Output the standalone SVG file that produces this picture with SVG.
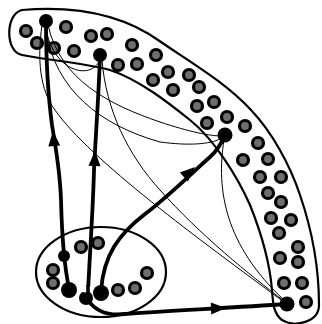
<svg xmlns="http://www.w3.org/2000/svg" xmlns:xlink="http://www.w3.org/1999/xlink" width="322" height="324" viewBox="0 0 322 324">
<style>
.region{fill:none;stroke:#000;stroke-width:2.2}
.g{fill:#6e6e6e;stroke:#000;stroke-width:3.2}
.n{fill:#000}
.thick{fill:none;stroke:#000;stroke-width:3.8;stroke-linecap:round}
.thin{fill:none;stroke:#000;stroke-width:1}
</style>
<defs>
<path id="ah" d="M0,0 L-15,-6 L-15,6 Z" fill="#000"/>
</defs>
<rect width="322" height="324" fill="#fff"/>
<g id="band">
<path class="region" d="M22,10 C70,6 120,12 161,42 C190,62 225,82 251,110 C272,132 290,165 300,195 C312,230 319,270 319,305 C319,322 295,328 282,320 C274,314 273,305 272,290 C270,265 262,235 250,205 C238,178 215,140 190,120 C170,104 140,80 110,70 C80,62 45,60 22,55 C5,52 5,14 22,10 Z"/>
<g>
<circle class="g" cx="26" cy="31" r="5.5"/><circle class="g" cx="37" cy="43" r="5.5"/><circle class="g" cx="54" cy="48" r="5.5"/>
<circle class="g" cx="66" cy="27" r="5.5"/><circle class="g" cx="74" cy="51" r="5.5"/><circle class="g" cx="91" cy="36" r="5.5"/>
<circle class="g" cx="107" cy="34" r="5.5"/><circle class="g" cx="132" cy="45" r="5.5"/><circle class="g" cx="118" cy="65" r="5.5"/>
<circle class="g" cx="137" cy="64" r="5.5"/><circle class="g" cx="156" cy="55" r="5.5"/><circle class="g" cx="153" cy="80" r="5.5"/>
<circle class="g" cx="168" cy="72" r="5.5"/><circle class="g" cx="173" cy="90" r="5.5"/><circle class="g" cx="189" cy="75" r="5.5"/>
<circle class="g" cx="199" cy="87" r="5.5"/><circle class="g" cx="197" cy="106" r="5.5"/><circle class="g" cx="214" cy="102" r="5.5"/>
<circle class="g" cx="207" cy="123" r="5.5"/><circle class="g" cx="227" cy="117" r="5.5"/><circle class="g" cx="245" cy="126" r="5.5"/>
<circle class="g" cx="258" cy="143" r="5.5"/><circle class="g" cx="243" cy="160" r="5.5"/><circle class="g" cx="268" cy="159" r="5.5"/>
<circle class="g" cx="260" cy="177" r="5.5"/><circle class="g" cx="281" cy="177" r="5.5"/><circle class="g" cx="268" cy="193" r="5.5"/>
<circle class="g" cx="281" cy="202" r="5.5"/><circle class="g" cx="271" cy="218" r="5.5"/><circle class="g" cx="291" cy="220" r="5.5"/>
<circle class="g" cx="279" cy="233" r="5.5"/><circle class="g" cx="298" cy="247" r="5.5"/><circle class="g" cx="280" cy="258" r="5.5"/>
<circle class="g" cx="298" cy="262" r="5.5"/><circle class="g" cx="284" cy="283" r="5.5"/><circle class="g" cx="302" cy="283" r="5.5"/>
<circle class="g" cx="306" cy="302" r="5.5"/>
</g>
</g>
<g id="cluster">
<ellipse class="region" cx="101" cy="272" rx="65" ry="45"/>
<circle class="g" cx="81" cy="247" r="5.5"/><circle class="g" cx="98" cy="243" r="5.5"/>
<circle class="g" cx="53" cy="270" r="5.5"/><circle class="g" cx="53" cy="283" r="5.5"/>
<circle class="g" cx="118" cy="290" r="5.5"/><circle class="g" cx="135" cy="288" r="5.5"/><circle class="g" cx="147" cy="273" r="5.5"/>
<circle class="n" cx="64" cy="256" r="6"/>
</g>
<g id="connectors">
<path class="thin" d="M46,28 C52,70 90,82 100,60"/>
<path class="thin" d="M48,25 C60,80 110,105 160,122 C190,132 210,136 222,136"/>
<path class="thin" d="M46,30 C55,90 100,125 160,142 C190,146 210,144 220,139"/>
<path class="thin" d="M42,25 C37,60 40,90 55,110 C90,160 200,240 284,302"/>
<path class="thin" d="M102,60 C106,110 128,155 160,190 C200,235 250,275 284,301"/>
<path class="thin" d="M224,140 C216,190 225,245 284,300"/>
<path class="thick" d="M69,288 C64,265 62,240 61,200 C60,170 56,150 52,125 C48,95 46,60 46,21"/>
<path class="thick" d="M88,292 C90,250 93,210 94,170 C96,130 99,90 100,55"/>
<path class="thick" d="M101,290 C104,255 118,235 145,214 C170,195 195,170 210,157 C218,150 222,142 225,135"/>
<path class="thick" d="M88,300 C96,312 108,316 125,314 C160,311 230,308 287,304"/>
<use xlink:href="#ah" transform="translate(53,131) rotate(-95)"/>
<use xlink:href="#ah" transform="translate(95,151) rotate(-88)"/>
<use xlink:href="#ah" transform="translate(195,167) rotate(-42)"/>
<use xlink:href="#ah" transform="translate(226,308) rotate(-2)"/>
</g>
<g id="A"><circle class="n" cx="46" cy="21" r="7"/></g>
<g id="B"><circle class="n" cx="100" cy="55" r="7"/></g>
<g id="C"><circle class="n" cx="225" cy="135" r="7.5"/></g>
<g id="D"><circle class="n" cx="287" cy="304" r="7.5"/></g>
<g id="source">
<circle class="n" cx="69" cy="290" r="8"/>
<circle class="n" cx="86" cy="298" r="7"/>
<circle class="n" cx="101" cy="293" r="8"/>
<ellipse cx="86" cy="289" rx="6" ry="3.5" fill="#fff"/>
<path d="M88,285 L88,298" stroke="#000" stroke-width="3.6"/>
</g>
</svg>
